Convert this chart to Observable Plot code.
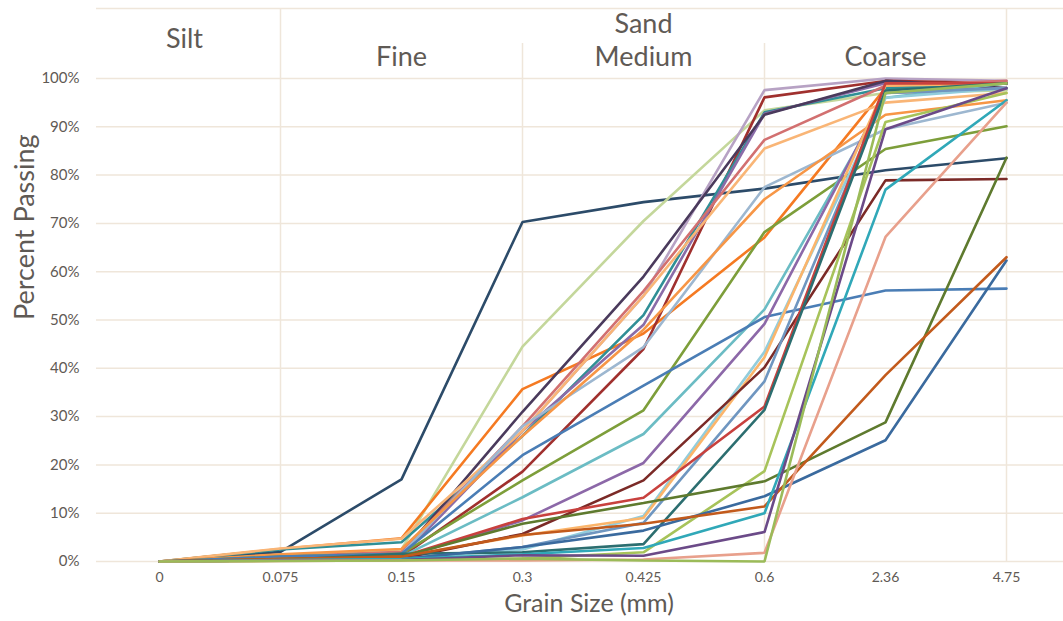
<!DOCTYPE html>
<html>
<head>
<meta charset="utf-8">
<script src="https://cdn.jsdelivr.net/npm/d3@7"></script>
<script src="https://cdn.jsdelivr.net/npm/@observablehq/plot@0.6"></script>
<style>
  html, body { margin: 0; padding: 0; background: #fff; }
  svg { display: block; }
</style>
</head>
<body>
<div id="chart"></div>
<script>
// Grain sizes (mm) – category axis
const sizes = ["0", "0.075", "0.15", "0.3", "0.425", "0.6", "2.36", "4.75"];
const yTicks = [0, 0.1, 0.2, 0.3, 0.4, 0.5, 0.6, 0.7, 0.8, 0.9, 1];

// Percent passing for each sample (one array per sample)
const s01 = [0, 2.0, 17.0, 70.3, 74.4, 77.2, 81.0, 83.5];
const s02 = [0, 1.0, 2.5, 44.5, 70.5, 93.4, 97.0, 97.5];
const s03 = [0, 2.6, 4.8, 35.7, 47.2, 67.1, 98.0, 99.0];
const s04 = [0, 1.0, 1.5, 27.0, 55.0, 97.6, 100, 99.5];
const s05 = [0, 0.5, 1.0, 18.6, 44.0, 96.1, 99.5, 99.0];
const s06 = [0, 2.5, 4.0, 26.0, 51.0, 93.0, 98.0, 99.0];
const s07 = [0, 0.5, 1.0, 27.0, 49.0, 92.7, 99.0, 99.0];
const s08 = [0, 1.0, 1.6, 31.0, 59.0, 92.5, 99.5, 98.0];
const s09 = [0, 1.0, 2.0, 28.0, 56.0, 87.3, 98.5, 99.5];
const s10 = [0, 2.7, 4.7, 27.0, 55.0, 85.5, 95.0, 97.0];
const s11 = [0, 1.0, 1.5, 28.0, 44.4, 77.5, 89.5, 95.0];
const s12 = [0, 1.5, 2.6, 26.0, 48.0, 75.0, 92.5, 95.5];
const s13 = [0, 1.0, 1.6, 16.8, 31.3, 68.2, 85.4, 90.1];
const s14 = [0, 0.5, 1.0, 13.3, 26.4, 52.2, 96.0, 99.0];
const s15 = [0, 1.0, 1.6, 22.0, 36.4, 50.6, 56.1, 56.5];
const s16 = [0, 0.3, 0.8, 8.5, 20.4, 49.2, 97.0, 98.0];
const s17 = [0, 0.3, 0.5, 2.5, 9.4, 43.4, 96.0, 98.0];
const s18 = [0, 0.5, 1.0, 5.4, 9.0, 42.3, 98.5, 99.0];
const s19 = [0, 0.3, 0.6, 5.7, 16.8, 40.2, 78.9, 79.2];
const s20 = [0, 0.3, 0.5, 3.0, 8.0, 37.3, 97.0, 98.0];
const s21 = [0, 0.5, 1.0, 8.8, 13.2, 32.1, 99.0, 99.0];
const s22 = [0, 0.3, 1.6, 1.9, 3.6, 31.4, 97.5, 99.0];
const s23 = [0, 0.2, 0.3, 0.6, 1.9, 18.7, 91.0, 97.0];
const s24 = [0, 0.5, 1.0, 7.8, 12.1, 16.6, 28.8, 83.6];
const s25 = [0, 0.3, 0.5, 3.0, 6.4, 13.5, 25.1, 62.3];
const s26 = [0, 0.5, 1.0, 5.5, 7.8, 11.4, 38.6, 63.0];
const s27 = [0, 0.3, 0.5, 1.5, 2.8, 10.0, 77.0, 95.5];
const s28 = [0, 0.2, 0.3, 1.3, 1.2, 6.1, 89.5, 98.0];
const s29 = [0, 0.1, 0.2, 0.2, 0.4, 1.8, 67.2, 95.0];
const s30 = [0, 0.1, 0.2, 0.6, 0.2, 0.0, 97.0, 99.0];

const samples = [s01, s02, s03, s04, s05, s06, s07, s08, s09, s10,
                 s11, s12, s13, s14, s15, s16, s17, s18, s19, s20,
                 s21, s22, s23, s24, s25, s26, s27, s28, s29, s30];
const sampleNames = samples.map((_, i) => "S" + String(i + 1).padStart(2, "0"));
const sampleColors = ["#2c4b69", "#c4d79b", "#f57a22", "#b7a2c4", "#a0302e",
                      "#2f8f96", "#8a6ca8", "#4a3a5c", "#d27070", "#f9b576",
                      "#9db7d0", "#f79646", "#7d9e3a", "#6bbcc4", "#4a7db5",
                      "#8c68a8", "#92cddc", "#fbb56b", "#7b2a27", "#6f96c0",
                      "#c8413e", "#2c6e70", "#a7c35a", "#5e7a2e", "#3a6a9e",
                      "#c25a1c", "#30a8b8", "#6b4a88", "#e8a08c", "#9bbb59"];

// Header (soil classes)
const classLabels = ["Silt", "Sand", "Fine", "Medium", "Coarse"];

const rows = [];
samples.forEach((vals, i) => {
  vals.forEach((v, j) => rows.push({sample: sampleNames[i], size: sizes[j], pct: v / 100}));
});

const grid = "#efe6da";
const txt = "#5f5a55";
const font = "Lato, 'Liberation Sans', sans-serif";

// header levels (in y-scale units above 100%)
const yTop = 1.145, yMid = 1.0725;

const chart = Plot.plot({
  width: 1063,
  height: 621,
  marginLeft: 96,
  marginRight: 0,
  marginTop: 78,
  marginBottom: 60,
  style: {fontFamily: font, color: txt, background: "#fff"},
  x: {type: "point", domain: sizes, range: [157, 1008], padding: 0, inset: 0},
  y: {domain: [0, 1], range: [561, 78]},
  color: {domain: sampleNames, range: sampleColors},
  marks: [
    // horizontal gridlines
    Plot.ruleY(yTicks, {stroke: grid, strokeWidth: 1.5}),
    // header frame
    Plot.ruleY([yTop], {stroke: grid, strokeWidth: 1.5}),
    Plot.ruleY([yMid], {x1: "0.075", x2: "4.75", stroke: grid, strokeWidth: 1.5}),
    Plot.ruleX(["0.075", "4.75"], {y1: 0, y2: yTop, stroke: grid, strokeWidth: 1.5}),
    Plot.ruleX(["0.3", "0.6"], {y1: 0, y2: yMid, stroke: grid, strokeWidth: 1.5}),
    // header labels
    Plot.text([classLabels[0]], {x: () => "0", y: () => 1.081, dx: 25, fontSize: 27, fill: txt}),
    Plot.text([classLabels[1]], {x: () => "0.425", y: () => 1.113, fontSize: 27, fill: txt}),
    Plot.text([classLabels[2]], {x: () => "0.15", y: () => 1.043, fontSize: 27, fill: txt}),
    Plot.text([classLabels[3]], {x: () => "0.425", y: () => 1.043, fontSize: 27, fill: txt}),
    Plot.text([classLabels[4]], {x: () => "2.36", y: () => 1.043, fontSize: 27, fill: txt}),
    // axes
    Plot.axisY(yTicks, {tickFormat: d3.format(".0%"), tickSize: 0, tickPadding: 17, fontSize: 15, fill: txt, label: null}),
    Plot.axisX({tickSize: 0, tickPadding: 11, fontSize: 14, fill: txt, label: null}),
    // data lines
    Plot.line(rows, {x: "size", y: "pct", z: "sample", stroke: "sample", strokeWidth: 2.6, strokeLinejoin: "miter"}),
    // axis titles
    Plot.text(["Percent Passing"], {frameAnchor: "left", dx: -71, rotate: -90, fontSize: 27, fill: txt}),
    Plot.text(["Grain Size (mm)"], {frameAnchor: "bottom", dx: 9, dy: 50, fontSize: 25, fill: txt})
  ]
});
document.getElementById("chart").appendChild(chart);
</script>
</body>
</html>
